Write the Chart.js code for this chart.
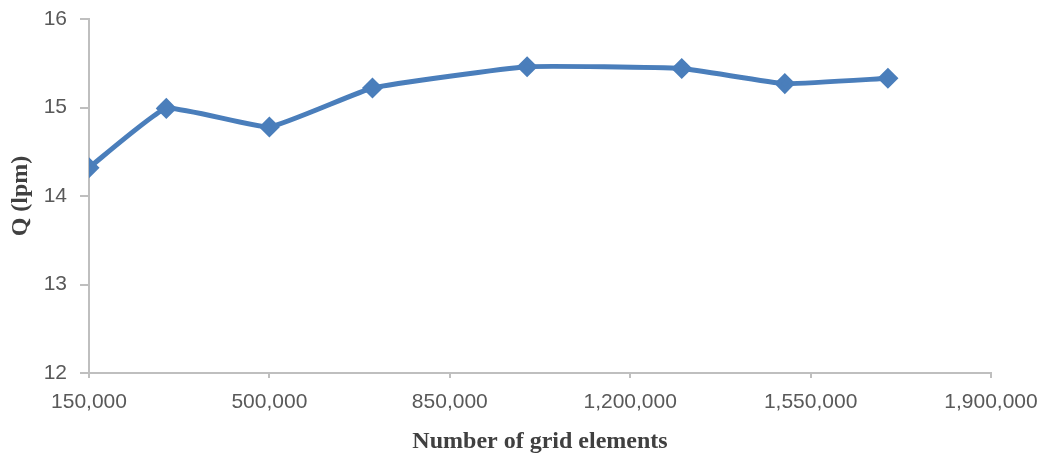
<!DOCTYPE html>
<html>
<head>
<meta charset="utf-8">
<script src="https://cdn.jsdelivr.net/npm/chart.js@4"></script>
<style>
  html, body { margin: 0; padding: 0; background: #fff; }
  #wrap { width: 1045px; height: 456px; }
</style>
</head>
<body>
<div id="wrap"><canvas id="chart"></canvas></div>
<script>
// Grid independence data
var gridElements = [150000, 300000, 500000, 700000, 1000000, 1300000, 1500000, 1700000];
var flowRate = [14.32, 14.99, 14.78, 15.22, 15.46, 15.44, 15.27, 15.33];

var xMin = 150000, xMax = 1900000, xStep = 350000;
var yMin = 12, yMax = 16, yStep = 1;

var points = gridElements.map(function (x, i) { return { x: x, y: flowRate[i] }; });

var axisGray = '#bfbfbf';
var tickFont = { family: 'Liberation Sans', size: 21 };
var titleFont = { family: 'Liberation Serif', size: 24, weight: 'bold' };

new Chart(document.getElementById('chart').getContext('2d'), {
  type: 'line',
  data: {
    datasets: [{
      data: points,
      borderColor: '#4a7ebb',
      backgroundColor: '#4a7ebb',
      borderWidth: 5,
      tension: 0.12,
      pointStyle: 'rectRot',
      pointRadius: 7,
      pointHoverRadius: 7,
      fill: false
    }]
  },
  options: {
    responsive: true,
    maintainAspectRatio: false,
    animation: false,
    layout: { padding: { top: 19, right: 54, bottom: 0, left: 0 } },
    plugins: {
      legend: { display: false },
      tooltip: { enabled: false }
    },
    scales: {
      x: {
        type: 'linear',
        min: xMin,
        max: xMax,
        ticks: {
          stepSize: xStep,
          color: '#595959',
          font: tickFont,
          padding: 12,
          maxRotation: 0,
          callback: function (v) { return v.toLocaleString('en-US'); }
        },
        grid: { drawOnChartArea: false, color: axisGray, lineWidth: 2, tickLength: 5 },
        border: { color: axisGray, width: 2 },
        title: {
          display: true,
          text: 'Number of grid elements',
          color: '#404040',
          font: titleFont,
          padding: { top: 6, bottom: 0 }
        },
        afterFit: function (scale) {
          scale.height = 83;
          scale.paddingLeft = 0;
          scale.paddingRight = 0;
        }
      },
      y: {
        min: yMin,
        max: yMax,
        ticks: {
          stepSize: yStep,
          color: '#595959',
          font: tickFont,
          padding: 13
        },
        grid: { drawOnChartArea: false, color: axisGray, lineWidth: 2, tickLength: 9 },
        border: { color: axisGray, width: 2 },
        title: {
          display: true,
          text: 'Q (lpm)',
          color: '#404040',
          font: titleFont,
          padding: { top: 6, bottom: 8 }
        },
        afterFit: function (scale) {
          scale.width = 89;
          scale.paddingTop = 0;
          scale.paddingBottom = 0;
        }
      }
    }
  }
});
</script>
</body>
</html>
